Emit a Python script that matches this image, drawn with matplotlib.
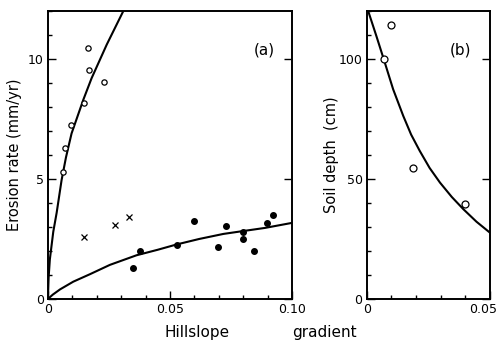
import matplotlib
matplotlib.use("Agg")
import matplotlib.pyplot as plt
import matplotlib.transforms as mtransforms
from matplotlib.ticker import MultipleLocator

# panel (a): erosion rate vs hillslope gradient
open_x = [0.0063, 0.0070, 0.0094, 0.0149, 0.0168, 0.0165, 0.0230]
open_y = [5.3, 6.3, 7.26, 8.15, 9.56, 10.44, 9.06]
cross_x = [0.0149, 0.0275, 0.0332]
cross_y = [2.59, 3.10, 3.42]
dot_x = [0.0347, 0.0378, 0.0529, 0.0598, 0.0697, 0.0728, 0.0800, 0.0800, 0.0846, 0.0899, 0.0921]
dot_y = [1.29, 1.98, 2.26, 3.25, 2.16, 3.06, 2.80, 2.49, 2.00, 3.17, 3.48]

# fitted curves
upper_x = [0.0, 0.0003, 0.0008, 0.0022, 0.0036, 0.0056, 0.0074, 0.0097, 0.0145, 0.0179, 0.0241, 0.0309]
upper_y = [0.0, 0.9, 1.65, 2.8, 3.6, 4.95, 5.9, 6.9, 8.3, 9.2, 10.6, 12.0]
lower_x = [0.0, 0.0020, 0.0050, 0.0104, 0.0172, 0.0254, 0.0363, 0.0450, 0.0527, 0.0620, 0.0719, 0.0800, 0.0889, 0.1000]
lower_y = [0.0, 0.18, 0.40, 0.72, 1.03, 1.42, 1.82, 2.05, 2.27, 2.50, 2.71, 2.83, 2.96, 3.17]

# panel (b): soil depth vs gradient
soil_x = [0.0069, 0.0100, 0.0186, 0.0398]
soil_y = [99.9, 114.0, 54.7, 39.7]
soil_fit_x = [0.0, 0.0009, 0.0039, 0.0069, 0.0107, 0.0148, 0.0180, 0.0215, 0.0255, 0.0297, 0.0345, 0.0392, 0.0445, 0.0500]
soil_fit_y = [122.0, 119.0, 109.6, 99.9, 87.4, 76.3, 68.5, 61.7, 54.6, 48.5, 42.5, 37.4, 32.2, 27.6]

plt.rcParams['font.family'] = 'DejaVu Sans'
fig = plt.figure(figsize=(4.99, 3.46), dpi=100)
ax1 = fig.add_axes([0.096, 0.136, 0.489, 0.832])
ax2 = fig.add_axes([0.735, 0.136, 0.247, 0.832])

ax1.plot(upper_x, upper_y, color='black', lw=1.5)
ax1.plot(lower_x, lower_y, color='black', lw=1.5)
ax1.plot(open_x, open_y, 'o', mfc='white', mec='black', ms=3.8, mew=0.9)
ax1.plot(cross_x, cross_y, 'x', color='black', ms=4, mew=0.9)
ax1.plot(dot_x, dot_y, 'o', color='black', ms=4)
ax1.set_xlim(0, 0.10)
ax1.set_ylim(0, 12)
ax1.set_xticks([0, 0.05, 0.10])
ax1.set_xticklabels(['0', '0.05', '0.10'])
ax1.set_yticks([0, 5, 10])
ax1.xaxis.set_minor_locator(MultipleLocator(0.01))
ax1.yaxis.set_minor_locator(MultipleLocator(1))
ax1.set_ylabel('Erosion rate (mm/yr)', fontsize=10.5, labelpad=4)
ax1.text(0.93, 0.85, '(a)', transform=ax1.transAxes, fontsize=11, ha='right')

ax2.plot(soil_fit_x, soil_fit_y, color='black', lw=1.5)
ax2.plot(soil_x, soil_y, 'o', mfc='white', mec='black', ms=5, mew=0.9)
ax2.set_xlim(0, 0.05)
ax2.set_ylim(0, 120)
ax2.set_xticks([0, 0.05])
ax2.set_xticklabels(['0', '0.05'])
ax2.set_yticks([0, 50, 100])
ax2.xaxis.set_minor_locator(MultipleLocator(0.01))
ax2.yaxis.set_minor_locator(MultipleLocator(10))
ax2.set_ylabel('Soil depth  (cm)', fontsize=10.5, labelpad=0)
ax2.text(0.85, 0.85, '(b)', transform=ax2.transAxes, fontsize=11, ha='right')

for ax in (ax1, ax2):
    for side in ax.spines.values():
        side.set_linewidth(1.4)
    ax.tick_params(which='major', direction='in', length=6, width=1, labelsize=9,
                   right=True, pad=3)
    ax.tick_params(which='minor', direction='in', length=3, width=1)

# last tick label of (b) sits against the right edge
last = ax2.get_xticklabels()[-1]
last.set_ha('right')
last.set_transform(last.get_transform() + mtransforms.ScaledTranslation(0.07, 0, fig.dpi_scale_trans))

fig.text(0.33, 0.025, 'Hillslope', fontsize=11)
fig.text(0.585, 0.025, 'gradient', fontsize=11)

fig.savefig('out.png', dpi=100)
